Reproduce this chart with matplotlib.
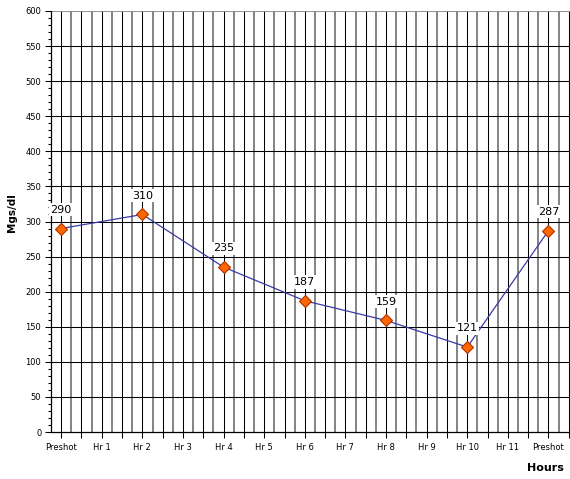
import matplotlib
matplotlib.use("Agg")
import matplotlib.pyplot as plt
import numpy as np
from matplotlib.ticker import FixedLocator, MultipleLocator

categories = ["Preshot", "Hr 1", "Hr 2", "Hr 3", "Hr 4", "Hr 5", "Hr 6",
              "Hr 7", "Hr 8", "Hr 9", "Hr 10", "Hr 11", "Preshot"]
point_idx = [0, 2, 4, 6, 8, 10, 12]
values = [290, 310, 235, 187, 159, 121, 287]

fig = plt.figure(figsize=(5.70, 4.79), dpi=100)
ax = fig.add_axes([51/570, 47/479, 1 - 51/570, (432-11)/479])

n = len(categories)
ax.set_xlim(-0.25, 12.53)
ax.set_ylim(0, 600)

# vertical grid
majors = np.arange(0, n, 0.5)
minors = np.arange(-0.25, n, 0.5)
for x in minors[1:]:
    ax.axvline(x, color="#7a7a7a", lw=1.3, zorder=1)
for x in majors:
    ax.axvline(x, color="black", lw=0.75, zorder=1)
# horizontal grid
for y in range(50, 600, 50):
    ax.axhline(y, color="black", lw=0.75, zorder=1)
ax.axhline(600, color="#8a8a8a", lw=1.3, zorder=1)

ax.xaxis.set_major_locator(FixedLocator(majors))
ax.set_xticklabels([categories[int(x)] if float(x).is_integer() else "" for x in majors],
                   fontsize=6)
ax.yaxis.set_major_locator(MultipleLocator(50))
ax.yaxis.set_minor_locator(MultipleLocator(10))
ax.tick_params(axis="x", length=4, width=0.75, direction="out", pad=4, color="black")
ax.tick_params(axis="y", which="major", length=4, width=0.75, direction="out", pad=3, labelsize=6)
ax.tick_params(axis="y", which="minor", length=2, width=0.75, direction="out")

for s in ["top", "right"]:
    ax.spines[s].set_visible(False)
ax.spines["left"].set_color("black")
ax.spines["bottom"].set_color("black")
ax.spines["left"].set_linewidth(0.9)
ax.spines["bottom"].set_linewidth(0.9)
ax.spines["left"].set_zorder(3)
ax.spines["bottom"].set_zorder(3)

ax.plot(point_idx, values, color="#3a3aa8", lw=0.9, zorder=4,
        marker="D", markersize=6, markerfacecolor="#ff6600",
        markeredgecolor="#b03000", markeredgewidth=0.8)

for x, v in zip(point_idx, values):
    ax.annotate(str(v), (x, v), xytext=(0, 10), textcoords="offset points",
                ha="center", va="bottom", fontsize=8, zorder=5,
                bbox=dict(boxstyle="square,pad=0.15", fc="white", ec="none"))

fig.text(12/570, 1 - 213/479, "Mgs/dl", rotation=90, ha="center", va="center",
         fontsize=7.5, fontweight="bold")
fig.text(545/570, 1 - 468/479, "Hours", ha="center", va="center",
         fontsize=8, fontweight="bold")

fig.savefig("out.png", dpi=100)
